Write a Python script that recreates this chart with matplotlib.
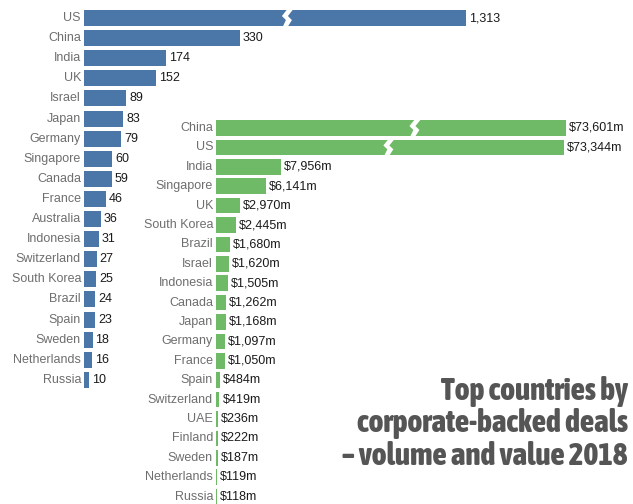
import matplotlib
matplotlib.use("Agg")
import matplotlib.pyplot as plt
from matplotlib.patches import Polygon

# Deal counts 2018 (blue)
vol_countries = ["US", "China", "India", "UK", "Israel", "Japan", "Germany", "Singapore",
                 "Canada", "France", "Australia", "Indonesia", "Switzerland", "South Korea",
                 "Brazil", "Spain", "Sweden", "Netherlands", "Russia"]
vol_values = [1313, 330, 174, 152, 89, 83, 79, 60, 59, 46, 36, 31, 27, 25, 24, 23, 18, 16, 10]
vol_labels = ["1,313", "330", "174", "152", "89", "83", "79", "60", "59", "46", "36", "31",
              "27", "25", "24", "23", "18", "16", "10"]

# Deal value 2018, $m (green)
val_countries = ["China", "US", "India", "Singapore", "UK", "South Korea", "Brazil", "Israel",
                 "Indonesia", "Canada", "Japan", "Germany", "France", "Spain", "Switzerland",
                 "UAE", "Finland", "Sweden", "Netherlands", "Russia"]
val_values = [73601, 73344, 7956, 6141, 2970, 2445, 1680, 1620, 1505, 1262, 1168, 1097, 1050,
              484, 419, 236, 222, 187, 119, 118]
val_labels = ["$73,601m", "$73,344m", "$7,956m", "$6,141m", "$2,970m", "$2,445m", "$1,680m",
              "$1,620m", "$1,505m", "$1,262m", "$1,168m", "$1,097m", "$1,050m", "$484m",
              "$419m", "$236m", "$222m", "$187m", "$119m", "$118m"]

# Broken-axis settings: the longest bars skip a span of the axis
vol_skip, vol_break_at = 505, {0: 425}
val_skip, val_break_at = 30693, {0: 24100, 1: 20900}

BLUE = "#4a77a8"
GREEN = "#6fba66"
NAME_GRAY = "#6e6e6e"
VALUE_BLACK = "#1a1a1a"

W, H = 633, 504
fig = plt.figure(figsize=(W / 100, H / 100), dpi=100)
fig.patch.set_facecolor("white")


def px_axes(left, top, width, height):
    return fig.add_axes([left / W, 1 - (top + height) / H, width / W, height / H])


def draw_panel(ax, countries, values, labels, skip, breaks, color, px_per_unit, width_px):
    n = len(countries)
    ax.set_xlim(0, width_px / px_per_unit)
    ax.set_ylim(n - 0.5, -0.5)
    ax.axis("off")
    unit = 1 / px_per_unit  # data units per pixel
    for i, (c, v, lab) in enumerate(zip(countries, values, labels)):
        shown = v - skip if i in breaks else v
        ax.barh(i, shown, height=0.8, color=color, linewidth=0)
        ax.text(-3 * unit, i, c, ha="right", va="center", fontsize=9,
                color=NAME_GRAY, family="Liberation Sans")
        ax.text(shown + 3 * unit, i, lab, ha="left", va="center", fontsize=9,
                color=VALUE_BLACK, family="Liberation Sans")
        if i in breaks:
            b = breaks[i]
            h = 0.42
            pts = [(b + 2 * unit, i - h), (b - 3 * unit, i - 0.1), (b + 1 * unit, i + 0.1),
                   (b - 2 * unit, i + h),
                   (b + 3 * unit, i + h), (b + 7 * unit, i + 0.1), (b + 3 * unit, i - 0.1),
                   (b + 8 * unit, i - h)]
            ax.add_patch(Polygon(pts, closed=True, facecolor="white", edgecolor="none",
                                 zorder=3))


ax1 = px_axes(84, 8, W - 84, 19 * 20.1)
draw_panel(ax1, vol_countries, vol_values, vol_labels, vol_skip, vol_break_at, BLUE,
           156 / 330, W - 84)

ax2 = px_axes(216, 118.3, W - 216, 20 * 19.4)
draw_panel(ax2, val_countries, val_values, val_labels, val_skip, val_break_at, GREEN,
           0.00815, W - 216)

title_lines = ["Top countries by", "corporate-backed deals", "\u2013 volume and value 2018"]
title_baselines = [400, 432, 465]
for line, base in zip(title_lines, title_baselines):
    fig.text(628 / W, 1 - base / H, line, ha="right", va="baseline",
             fontsize=22.5, fontweight=800, color="#555555",
             family=["Asap Condensed", "DejaVu Sans"])

fig.savefig("out.png", dpi=100, facecolor="white")
